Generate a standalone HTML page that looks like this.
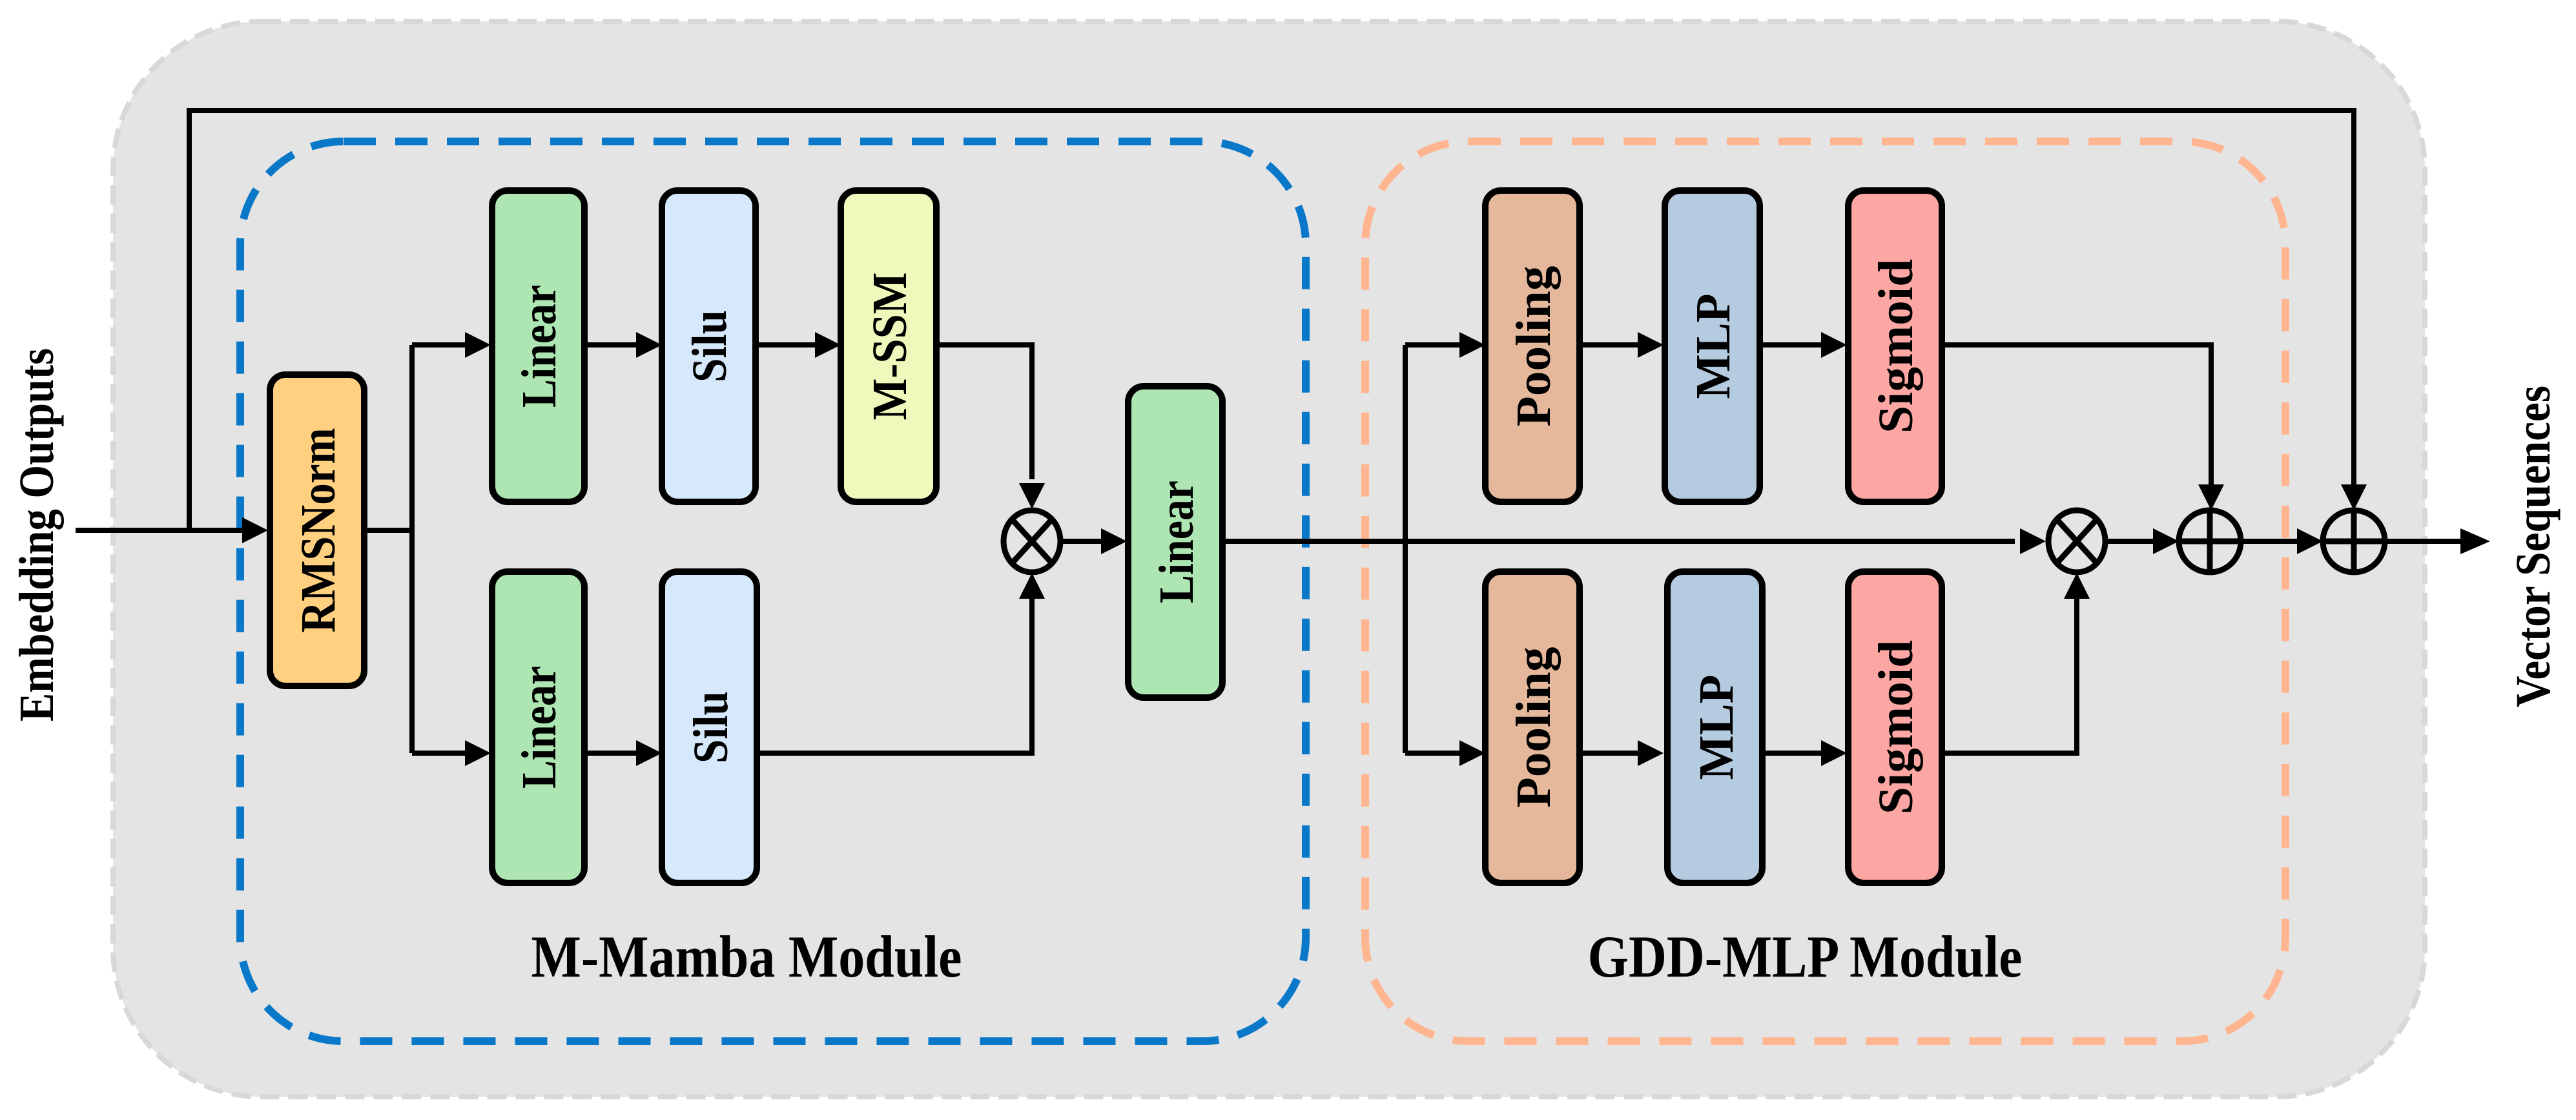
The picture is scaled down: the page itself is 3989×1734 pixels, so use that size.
<!DOCTYPE html>
<html><head><meta charset="utf-8"><style>
html,body{margin:0;padding:0;background:#fff;}
svg{display:block;}
text{font-family:"Liberation Serif",serif;font-weight:bold;fill:#000;}
</style></head><body>
<svg width="3989" height="1734" viewBox="0 0 3989 1734" xmlns="http://www.w3.org/2000/svg">
<rect x="175" y="33" width="3580" height="1665" rx="230" fill="#e4e4e4" stroke="#d8d8d8" stroke-width="8" stroke-dasharray="30 14"/>
<rect x="372" y="219" width="1650" height="1393" rx="160" fill="none" stroke="#0a78c8" stroke-width="12" stroke-dasharray="50 30"/>
<rect x="2114" y="219" width="1425" height="1393" rx="160" fill="none" stroke="#ffb690" stroke-width="12" stroke-dasharray="50 30"/>

<g stroke="#000" stroke-width="8" fill="none">
<line x1="117" y1="821" x2="380" y2="821"/>
<polyline points="293,821 293,171 3645,171 3645,760"/>
<polyline points="564,821 638,821"/>
<polyline points="638,534 638,1166"/>
<line x1="638" y1="534" x2="720" y2="534"/>
<line x1="638" y1="1166" x2="720" y2="1166"/>
<line x1="905" y1="534" x2="985" y2="534"/>
<line x1="905" y1="1166" x2="985" y2="1166"/>
<line x1="1170" y1="534" x2="1262" y2="534"/>
<polyline points="1450,534 1598,534 1598,742"/>
<polyline points="1172,1166 1598,1166 1598,915"/>
<line x1="1645" y1="838" x2="1705" y2="838"/>
<line x1="1893" y1="838" x2="3120" y2="838"/>
<polyline points="2176,534 2176,1166"/>
<line x1="2176" y1="534" x2="2260" y2="534"/>
<line x1="2176" y1="1166" x2="2260" y2="1166"/>
<line x1="2446" y1="534" x2="2536" y2="534"/>
<line x1="2446" y1="1166" x2="2536" y2="1166"/>
<line x1="2725" y1="534" x2="2820" y2="534"/>
<line x1="2725" y1="1166" x2="2820" y2="1166"/>
<polyline points="3007,534 3424,534 3424,760"/>
<polyline points="3007,1166 3216,1166 3216,915"/>
<line x1="3262" y1="838" x2="3335" y2="838"/>
<line x1="3470" y1="838" x2="3560" y2="838"/>
<line x1="3693" y1="838" x2="3810" y2="838"/>
</g>
<g fill="#000">
<polygon points="415,821 375,801 375,841"/>
<polygon points="760,534 720,514 720,554"/>
<polygon points="760,1166 720,1146 720,1186"/>
<polygon points="1025,534 985,514 985,554"/>
<polygon points="1025,1166 985,1146 985,1186"/>
<polygon points="1302,534 1262,514 1262,554"/>
<polygon points="1598,788 1578,748 1618,748"/>
<polygon points="1598,887 1578,927 1618,927"/>
<polygon points="1745,838 1705,818 1705,858"/>
<polygon points="2300,534 2260,514 2260,554"/>
<polygon points="2300,1166 2260,1146 2260,1186"/>
<polygon points="2576,534 2536,514 2536,554"/>
<polygon points="2576,1166 2536,1146 2536,1186"/>
<polygon points="2860,534 2820,514 2820,554"/>
<polygon points="2860,1166 2820,1146 2820,1186"/>
<polygon points="3168,838 3128,818 3128,858"/>
<polygon points="3216,887 3196,927 3236,927"/>
<polygon points="3424,790 3404,750 3444,750"/>
<polygon points="3645,790 3625,750 3665,750"/>
<polygon points="3374,838 3334,818 3334,858"/>
<polygon points="3597,838 3557,818 3557,858"/>
<polygon points="3856,838 3810,818 3810,858"/>
</g>
<g stroke="#000" stroke-width="9" fill="none">
<ellipse cx="1598" cy="838" rx="44" ry="48"/>
<line x1="1567" y1="804" x2="1629" y2="872"/><line x1="1629" y1="804" x2="1567" y2="872"/>
<ellipse cx="3216" cy="838" rx="44" ry="48"/>
<line x1="3185" y1="804" x2="3247" y2="872"/><line x1="3247" y1="804" x2="3185" y2="872"/>
<ellipse cx="3422" cy="838" rx="48" ry="48"/>
<line x1="3374" y1="838" x2="3470" y2="838"/><line x1="3422" y1="790" x2="3422" y2="886"/>
<ellipse cx="3645" cy="838" rx="48" ry="48"/>
<line x1="3597" y1="838" x2="3693" y2="838"/><line x1="3645" y1="790" x2="3645" y2="886"/>
</g>
<g stroke="#000" stroke-width="10">
<rect x="418" y="580" width="146" height="482" rx="24" fill="#ffd080"/>
<rect x="762" y="295" width="143" height="482" rx="24" fill="#ade6b2"/>
<rect x="1025" y="295" width="145" height="482" rx="24" fill="#d6e8fb"/>
<rect x="1302" y="295" width="148" height="482" rx="24" fill="#f1f8bb"/>
<rect x="762" y="885" width="143" height="482" rx="24" fill="#ade6b2"/>
<rect x="1025" y="885" width="147" height="482" rx="24" fill="#d6e8fb"/>
<rect x="1747" y="598" width="146" height="482" rx="24" fill="#ade6b2"/>
<rect x="2300" y="295" width="146" height="482" rx="24" fill="#e5b89b"/>
<rect x="2578" y="295" width="147" height="482" rx="24" fill="#b4cbe0"/>
<rect x="2862" y="295" width="145" height="482" rx="24" fill="#fca7a3"/>
<rect x="2300" y="885" width="146" height="482" rx="24" fill="#e5b89b"/>
<rect x="2582" y="885" width="147" height="482" rx="24" fill="#b4cbe0"/>
<rect x="2862" y="885" width="145" height="482" rx="24" fill="#fca7a3"/>
</g>
<g font-size="76" text-anchor="middle" lengthAdjust="spacingAndGlyphs">
<text transform="translate(518,821) rotate(-90)" textLength="317" lengthAdjust="spacingAndGlyphs">RMSNorm</text>
<text transform="translate(860,536) rotate(-90)" textLength="190" lengthAdjust="spacingAndGlyphs">Linear</text>
<text transform="translate(1124,536) rotate(-90)" textLength="112" lengthAdjust="spacingAndGlyphs">Silu</text>
<text transform="translate(1403,536) rotate(-90)" textLength="229" lengthAdjust="spacingAndGlyphs">M-SSM</text>
<text transform="translate(860,1126) rotate(-90)" textLength="190" lengthAdjust="spacingAndGlyphs">Linear</text>
<text transform="translate(1126,1126) rotate(-90)" textLength="112" lengthAdjust="spacingAndGlyphs">Silu</text>
<text transform="translate(1847,839) rotate(-90)" textLength="190" lengthAdjust="spacingAndGlyphs">Linear</text>
<text transform="translate(2400,536) rotate(-90)" textLength="249" lengthAdjust="spacingAndGlyphs">Pooling</text>
<text transform="translate(2678,536) rotate(-90)" textLength="163" lengthAdjust="spacingAndGlyphs">MLP</text>
<text transform="translate(2961,536) rotate(-90)" textLength="270" lengthAdjust="spacingAndGlyphs">Sigmoid</text>
<text transform="translate(2400,1126) rotate(-90)" textLength="249" lengthAdjust="spacingAndGlyphs">Pooling</text>
<text transform="translate(2683,1126) rotate(-90)" textLength="163" lengthAdjust="spacingAndGlyphs">MLP</text>
<text transform="translate(2961,1126) rotate(-90)" textLength="270" lengthAdjust="spacingAndGlyphs">Sigmoid</text>
</g>
<text x="1156" y="1512" font-size="92" text-anchor="middle" textLength="667" lengthAdjust="spacingAndGlyphs">M-Mamba Module</text>
<text x="2795" y="1512" font-size="92" text-anchor="middle" textLength="673" lengthAdjust="spacingAndGlyphs">GDD-MLP Module</text>
<text transform="translate(82,828) rotate(-90)" font-size="76" text-anchor="middle" textLength="578" lengthAdjust="spacingAndGlyphs">Embedding Outputs</text>
<text transform="translate(3948,846) rotate(-90)" font-size="76" text-anchor="middle" textLength="498" lengthAdjust="spacingAndGlyphs">Vector Sequences</text>
</svg>
</body></html>
